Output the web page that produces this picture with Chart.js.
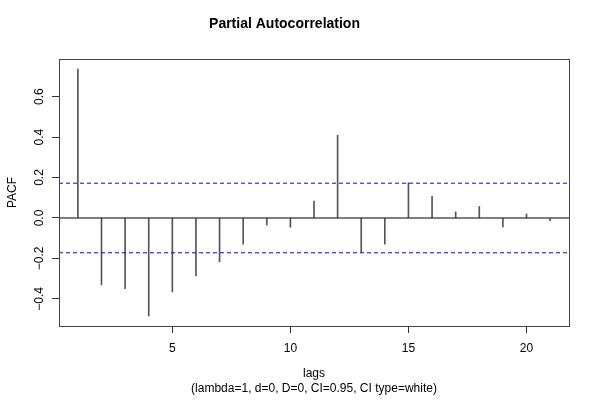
<!DOCTYPE html>
<html>
<head>
<meta charset="utf-8">
<script src="https://cdn.jsdelivr.net/npm/chart.js@4.4.1/dist/chart.umd.min.js"></script>
<style>
  html, body { margin: 0; padding: 0; background: #fff; }
  #wrap { width: 600px; height: 400px; }
</style>
</head>
<body>
<div id="wrap"><canvas id="myChart" width="600" height="400"></canvas></div>
<script>
// data
var lags = [1, 2, 3, 4, 5, 6, 7, 8, 9, 10, 11, 12, 13, 14, 15, 16, 17, 18, 19, 20, 21];
var pacf = [0.736, -0.331, -0.349, -0.485, -0.365, -0.286, -0.217, -0.130, -0.035, -0.046, 0.084,
            0.409, -0.170, -0.130, 0.174, 0.107, 0.030, 0.057, -0.044, 0.020, -0.013];
var ciBound = 0.172;
var xTicks = [5, 10, 15, 20];
var yTicks = [-0.4, -0.2, 0.0, 0.2, 0.4, 0.6];
var xMin = 0.2, xMax = 21.8;
var yMin = -0.534, yMax = 0.786;

var FONT = '"Liberation Sans", Arial, Helvetica, sans-serif';

var bars = lags.map(function (l, i) { return { x: l, y: pacf[i] }; });

// R style box + rotated y labels
var rStyle = {
    id: 'rStyle',
    afterDraw: function (chart) {
        var ctx = chart.ctx, a = chart.chartArea, ys = chart.scales.y;
        ctx.save();
        ctx.strokeStyle = '#444';
        ctx.lineWidth = 1;
        ctx.strokeRect(Math.round(a.left) + 0.5, Math.round(a.top) + 0.5,
                       Math.round(a.right - a.left), Math.round(a.bottom - a.top));
        ctx.fillStyle = '#000';
        ctx.font = '12px ' + FONT;
        ctx.textAlign = 'center';
        ctx.textBaseline = 'middle';
        ys.ticks.forEach(function (t) {
            var py = ys.getPixelForValue(t.value);
            ctx.save();
            ctx.translate(40, py);
            ctx.rotate(-Math.PI / 2);
            ctx.fillText(t.value.toFixed(1).replace('-', '\u2212'), 0, 0);
            ctx.restore();
        });
        ctx.restore();
    }
};

var ctx = document.getElementById('myChart').getContext('2d');
var chart = new Chart(ctx, {
    type: 'bar',
    data: {
        datasets: [
            {
                type: 'line',
                data: [{ x: xMin, y: 0 }, { x: xMax, y: 0 }],
                borderColor: '#000',
                borderWidth: 1,
                pointRadius: 0
            },
            {
                type: 'line',
                data: [{ x: xMin, y: ciBound }, { x: xMax, y: ciBound }],
                borderColor: '#0000ff',
                borderWidth: 1,
                borderDash: [4, 3],
                pointRadius: 0
            },
            {
                type: 'line',
                data: [{ x: xMin, y: -ciBound }, { x: xMax, y: -ciBound }],
                borderColor: '#0000ff',
                borderWidth: 1,
                borderDash: [4, 3],
                pointRadius: 0
            },
            {
                data: bars,
                backgroundColor: '#555',
                barThickness: 1,
                grouped: false
            }
        ]
    },
    options: {
        responsive: false,
        animation: false,
        layout: { padding: { left: 0, right: 31, top: 0, bottom: 0 } },
        plugins: {
            legend: { display: false },
            tooltip: { enabled: false },
            title: {
                display: true,
                text: 'Partial Autocorrelation',
                color: '#000',
                font: { family: FONT, size: 14, weight: 'bold', lineHeight: 1.2 },
                padding: { top: 16, bottom: 26.2 }
            }
        },
        scales: {
            x: {
                type: 'linear',
                min: xMin,
                max: xMax,
                offset: false,
                afterBuildTicks: function (s) { s.ticks = xTicks.map(function (v) { return { value: v }; }); },
                afterFit: function (s) { s.height = 74; },
                ticks: {
                    color: '#000',
                    font: { family: FONT, size: 12 },
                    padding: 8,
                    maxRotation: 0,
                    callback: function (v) { return String(v); }
                },
                grid: { offset: false, drawOnChartArea: false, drawTicks: true, tickLength: 7, color: '#333' },
                border: { display: true, color: '#444' },
                title: {
                    display: true,
                    text: ['lags', '(lambda=1, d=0, D=0, CI=0.95, CI type=white)'],
                    color: '#000',
                    font: { family: FONT, size: 12, lineHeight: 1.25 },
                    padding: { top: 0, bottom: 3.5 }
                }
            },
            y: {
                min: yMin,
                max: yMax,
                afterBuildTicks: function (s) { s.ticks = yTicks.map(function (v) { return { value: v }; }); },
                afterFit: function (s) { s.width = 59; },
                ticks: { display: false },
                grid: { drawOnChartArea: false, drawTicks: true, tickLength: 7, color: '#333' },
                border: { display: true, color: '#444' },
                title: {
                    display: true,
                    text: 'PACF',
                    color: '#000',
                    font: { family: FONT, size: 12, lineHeight: 1.2 },
                    padding: { top: 5, bottom: 0 }
                }
            }
        }
    },
    plugins: [rStyle]
});
</script>
</body>
</html>
